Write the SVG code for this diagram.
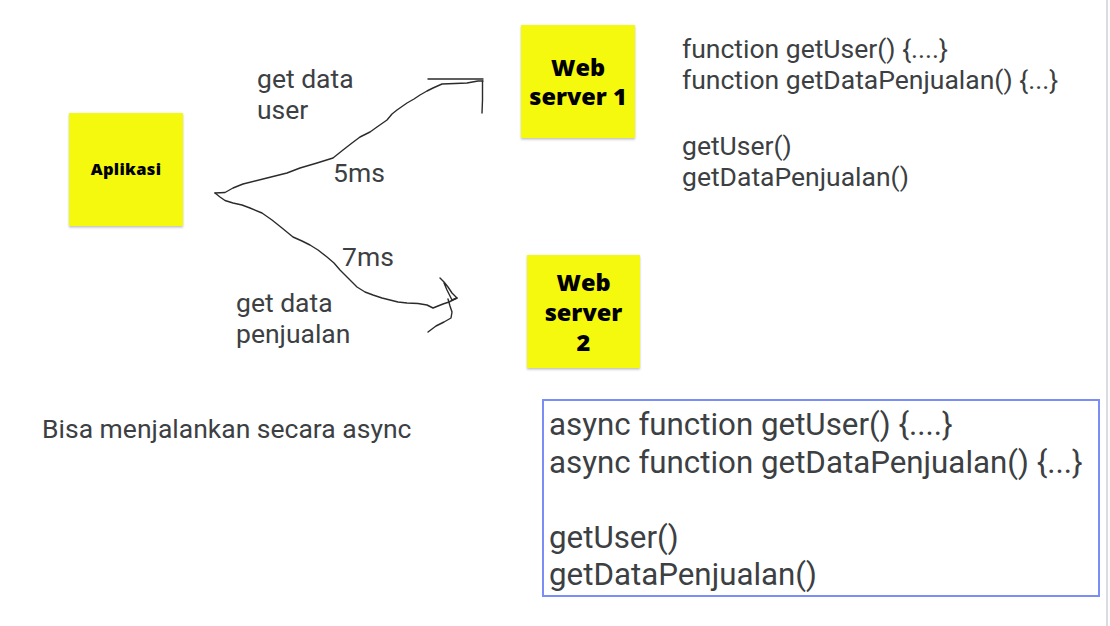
<svg xmlns="http://www.w3.org/2000/svg" width="1110" height="626" viewBox="0 0 1110 626">
<defs>
<filter id="sh" x="-10%" y="-10%" width="120%" height="125%"><feDropShadow dx="0" dy="1.5" stdDeviation="1" flood-color="#000" flood-opacity="0.25"/></filter>
</defs>
<style>
.sticky{fill:#f5f90a;filter:url(#sh)}
.st{font-family:"Open Sans","DejaVu Sans",sans-serif;font-weight:800;fill:#000;text-anchor:middle}
.t{font-family:Roboto,"Liberation Sans",sans-serif;fill:#3c4043;font-size:26.5px}
.code{font-family:Roboto,"Liberation Sans",sans-serif;fill:#3c4043;font-size:31.3px}
.ink{fill:none;stroke:#2b2b2b;stroke-width:1.4;stroke-linecap:round;stroke-linejoin:round}
</style>
<rect width="1110" height="626" fill="#fff"/>
<rect x="1106" y="0" width="2" height="626" fill="#dadce0"/>

<g id="aplikasi">
<rect class="sticky" x="69" y="113" width="114" height="113"/>
<text class="st" x="126" y="175" font-size="16.5" letter-spacing="0.3">Aplikasi</text>
</g>
<g id="webserver1">
<rect class="sticky" x="521" y="25" width="114" height="113"/>
<text class="st" x="578" y="76" font-size="23.5">Web</text>
<text class="st" x="578" y="105" font-size="23.5">server 1</text>
</g>
<g id="webserver2">
<rect class="sticky" x="527" y="255" width="113" height="113"/>
<text class="st" x="583.5" y="291" font-size="23.5">Web</text>
<text class="st" x="583.5" y="321" font-size="23.5">server</text>
<text class="st" x="583.5" y="351" font-size="23.5">2</text>
</g>

<g id="connectors">
<path class="ink" d="M215,193 L225,192.5 L233,188 L243,184 L267,178 L287,173 L300,168 L317,163 L333,158 L343,150 L352,143 L360,137 L370,132 L377,127 L387,120 L392,114 L397,110 L407,103 L414,99 L420,95 L427,91 L433,88 L442,84 L455,83.5 L467,83 L478,81 L483,81"/>
<path class="ink" d="M428,79 L455,79 L483,79 M482.5,81 L482.5,100 L482,113"/>
<path class="ink" d="M215,193 L220,197 L225,200.5 L233,203 L242,205 L250,208 L262,213 L272,220 L282,228 L293,237 L302,241 L310,245 L318,250 L327,257 L334,263 L340,270 L348,278 L357,287 L365,292 L373,295 L382,298 L390,300 L398,302 L407,303 L418,303.5 L427,305 L433,308 L438,306 L443,304 L449,302 L455,299 L457,298"/>
<path class="ink" d="M440,278 L444,282 L448,287 L452,293 L457,298 L452,300 L449,294 L447,290 L444,283 M448,299 L450,306 L452,312 L451,318 L444,322 L436,326 L428,332"/>
</g>

<g id="labels">
<text class="t" x="257" y="88">get data</text>
<text class="t" x="257" y="119">user</text>
<text class="t" x="333" y="182">5ms</text>
<text class="t" x="342" y="266">7ms</text>
<text class="t" x="236" y="312">get data</text>
<text class="t" x="236" y="343">penjualan</text>
<text class="t" x="42" y="438" font-size="25.6">Bisa menjalankan secara async</text>
</g>

<g id="code-sync">
<text class="t" x="682" y="58">function getUser() {....}</text>
<text class="t" x="682" y="89">function getDataPenjualan() {...}</text>
<text class="t" x="682" y="155">getUser()</text>
<text class="t" x="682" y="186">getDataPenjualan()</text>
</g>

<g id="code-async">
<rect x="543" y="400" width="556" height="196" fill="none" stroke="#7b8ef5" stroke-width="2"/>
<text class="code" x="549" y="435">async function getUser() {....}</text>
<text class="code" x="549" y="473">async function getDataPenjualan() {...}</text>
<text class="code" x="549" y="548">getUser()</text>
<text class="code" x="549" y="585">getDataPenjualan()</text>
</g>
</svg>
